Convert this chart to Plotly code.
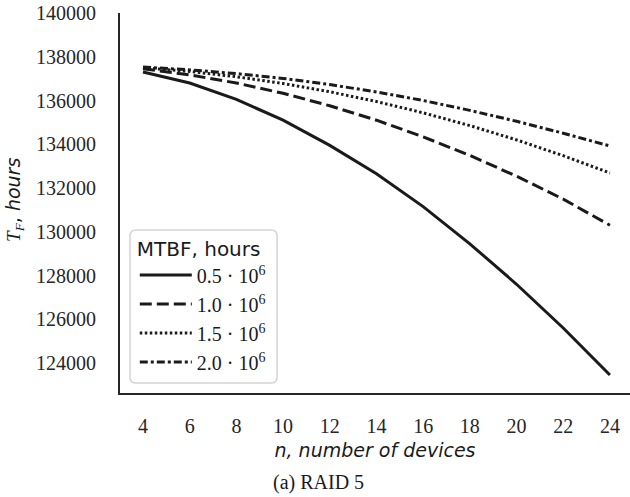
import plotly.graph_objects as go

# Number of devices in the array
n_devices = [4, 6, 8, 10, 12, 14, 16, 18, 20, 22, 24]

# Mean time to failure of a RAID 5 array (hours) for several device MTBF values
tf_mtbf_05 = [137300, 136800, 136050, 135100, 133950, 132650, 131150, 129450, 127600, 125600, 123450]
tf_mtbf_10 = [137450, 137170, 136800, 136330, 135760, 135100, 134340, 133490, 132540, 131490, 130300]
tf_mtbf_15 = [137500, 137328, 137087, 136778, 136400, 135953, 135437, 134853, 134200, 133478, 132687]
tf_mtbf_20 = [137530, 137400, 137230, 137010, 136730, 136390, 136000, 135550, 135050, 134505, 133920]

series_labels = ["0.5 · 10<sup>6</sup>", "1.0 · 10<sup>6</sup>",
                 "1.5 · 10<sup>6</sup>", "2.0 · 10<sup>6</sup>"]
x_ticks = [4, 6, 8, 10, 12, 14, 16, 18, 20, 22, 24]
y_ticks = [124000, 126000, 128000, 130000, 132000, 134000, 136000, 138000, 140000]

series = [tf_mtbf_05, tf_mtbf_10, tf_mtbf_15, tf_mtbf_20]
dashes = ["solid", "12px,5px", "2.5px,2.5px", "8px,3px,3px,3px"]

SERIF = "Liberation Serif, Times New Roman, serif"
SANS = "DejaVu Sans, sans-serif"

fig = go.Figure()
for values, label, dash in zip(series, series_labels, dashes):
    fig.add_trace(go.Scatter(
        x=n_devices, y=values, name=label, mode="lines",
        line=dict(color="#1a1a1a", width=3, dash=dash),
    ))

fig.update_layout(
    width=630, height=497,
    margin=dict(l=120, r=0, t=13, b=104),
    paper_bgcolor="white", plot_bgcolor="white",
    showlegend=True,
    legend=dict(
        title=dict(text="MTBF, hours", font=dict(family=SANS, size=20, color="#1a1a1a")),
        font=dict(family=SERIF, size=20, color="#1a1a1a"),
        x=0.029, y=0.43, xanchor="left", yanchor="top",
        bgcolor="rgba(0,0,0,0)", borderwidth=0,
        itemwidth=52, tracegroupgap=0,
    ),
    xaxis=dict(
        range=[3.015, 24.86], tickmode="array", tickvals=x_ticks,
        showgrid=False, zeroline=False,
        showline=True, linecolor="#262626", linewidth=2,
        ticks="", ticklabelstandoff=14,
        tickfont=dict(family=SERIF, size=20, color="#262626"),
        title=dict(text="<i>n, number of devices</i>",
                   font=dict(family=SANS, size=19, color="#1a1a1a"), standoff=8),
    ),
    yaxis=dict(
        range=[122630, 140000], tickmode="array", tickvals=y_ticks,
        tickformat="d",
        showgrid=False, zeroline=False,
        showline=True, linecolor="#262626", linewidth=2,
        ticks="", ticklabelstandoff=18,
        tickfont=dict(family=SERIF, size=20, color="#262626"),
    ),
)

# Rounded frame behind the legend (paper coordinates of the plot area)
x0, x1, y0, y1, r = 0.0196, 0.308, 0.026, 0.429, 0.012
ry = r * 510 / 380
frame = (f"M{x0 + r},{y0} L{x1 - r},{y0} Q{x1},{y0} {x1},{y0 + ry} "
         f"L{x1},{y1 - ry} Q{x1},{y1} {x1 - r},{y1} L{x0 + r},{y1} "
         f"Q{x0},{y1} {x0},{y1 - ry} L{x0},{y0 + ry} Q{x0},{y0} {x0 + r},{y0} Z")
fig.add_shape(type="path", path=frame, xref="paper", yref="paper",
              line=dict(color="#d4d4d4", width=1.5), fillcolor="white", layer="above")

# Y-axis title and panel caption
fig.add_annotation(
    xref="paper", yref="paper", x=-0.206, y=0.508,
    text=f"<span style='font-family:{SERIF}'><i>T</i><sub><i>F</i></sub></span>, <i>hours</i>",
    textangle=-90, showarrow=False, xanchor="center", yanchor="middle",
    font=dict(family=SANS, size=19, color="#1a1a1a"),
)
fig.add_annotation(
    xref="paper", yref="paper", x=0.39, y=-0.236,
    text="(a) RAID 5", showarrow=False, xanchor="center", yanchor="middle",
    font=dict(family=SERIF, size=20, color="#1a1a1a"),
)

fig.write_html("out.html")
